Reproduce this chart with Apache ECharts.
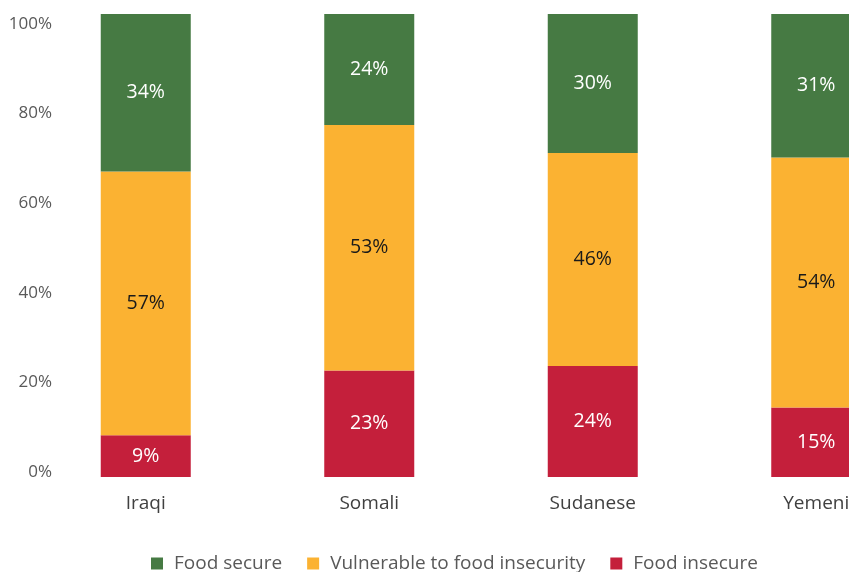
<!DOCTYPE html>
<html>
<head>
<meta charset="utf-8">
<script src="https://cdn.jsdelivr.net/npm/echarts@6/dist/echarts.min.js"></script>
<style>
  html, body { margin: 0; padding: 0; background: #fff; }
  #chart { width: 849px; height: 572px; }
</style>
</head>
<body>
<div id="chart"></div>
<script>
const categories = ['Iraqi', 'Somali', 'Sudanese', 'Yemeni'];
const foodInsecure = [9, 23, 24, 15];
const vulnerable = [57, 53, 46, 54];
const foodSecure = [34, 24, 30, 31];
const yTicks = [0, 20, 40, 60, 80, 100];

const FONT = '"Open Sans", "Noto Sans", sans-serif';

const chart = echarts.init(document.getElementById('chart'));

function seg(name, data, color, labelColor) {
  return {
    name: name,
    type: 'bar',
    stack: 'total',
    data: data,
    barWidth: 90,
    xAxisIndex: 0,
    yAxisIndex: 0,
    itemStyle: { color: color },
    label: {
      show: true,
      position: 'inside',
      formatter: '{c}%',
      color: labelColor,
      fontFamily: FONT,
      fontSize: 19.5
    }
  };
}

chart.setOption({
  animation: false,
  textStyle: { fontFamily: FONT },
  grid: [
    // plot runs past the right edge, the last bar is cut like in the source
    { left: 34, width: 894, top: 14, height: 463, outerBoundsMode: 'none' },
    // only used to place the percent labels
    { left: 60, width: 10, top: 24, height: 448, outerBoundsMode: 'none' }
  ],
  legend: {
    left: 146,
    top: 549,
    itemWidth: 12,
    itemHeight: 12,
    itemGap: 25,
    icon: 'rect',
    textStyle: { color: '#595959', fontSize: 19, fontFamily: FONT, padding: [0, 0, 0, 6] },
    data: ['Food secure', 'Vulnerable to food insecurity', 'Food insecure']
  },
  xAxis: [
    {
      type: 'category',
      gridIndex: 0,
      data: categories,
      axisLine: { show: false },
      axisTick: { show: false },
      axisLabel: { color: '#404040', fontSize: 19, fontFamily: FONT, margin: 17 }
    },
    { type: 'value', gridIndex: 1, show: false }
  ],
  yAxis: [
    { type: 'value', gridIndex: 0, min: 0, max: 100, show: false },
    {
      type: 'value',
      gridIndex: 1,
      min: yTicks[0],
      max: yTicks[yTicks.length - 1],
      interval: 20,
      axisLine: { show: false },
      axisTick: { show: false },
      splitLine: { show: false },
      axisLabel: { color: '#595959', fontSize: 17, fontFamily: FONT, margin: 8, formatter: '{value}%' }
    }
  ],
  series: [
    seg('Food insecure', foodInsecure, '#c41f3b', '#ffffff'),
    seg('Vulnerable to food insecurity', vulnerable, '#fbb232', '#1a1a1a'),
    seg('Food secure', foodSecure, '#467a43', '#ffffff')
  ]
});
</script>
</body>
</html>
